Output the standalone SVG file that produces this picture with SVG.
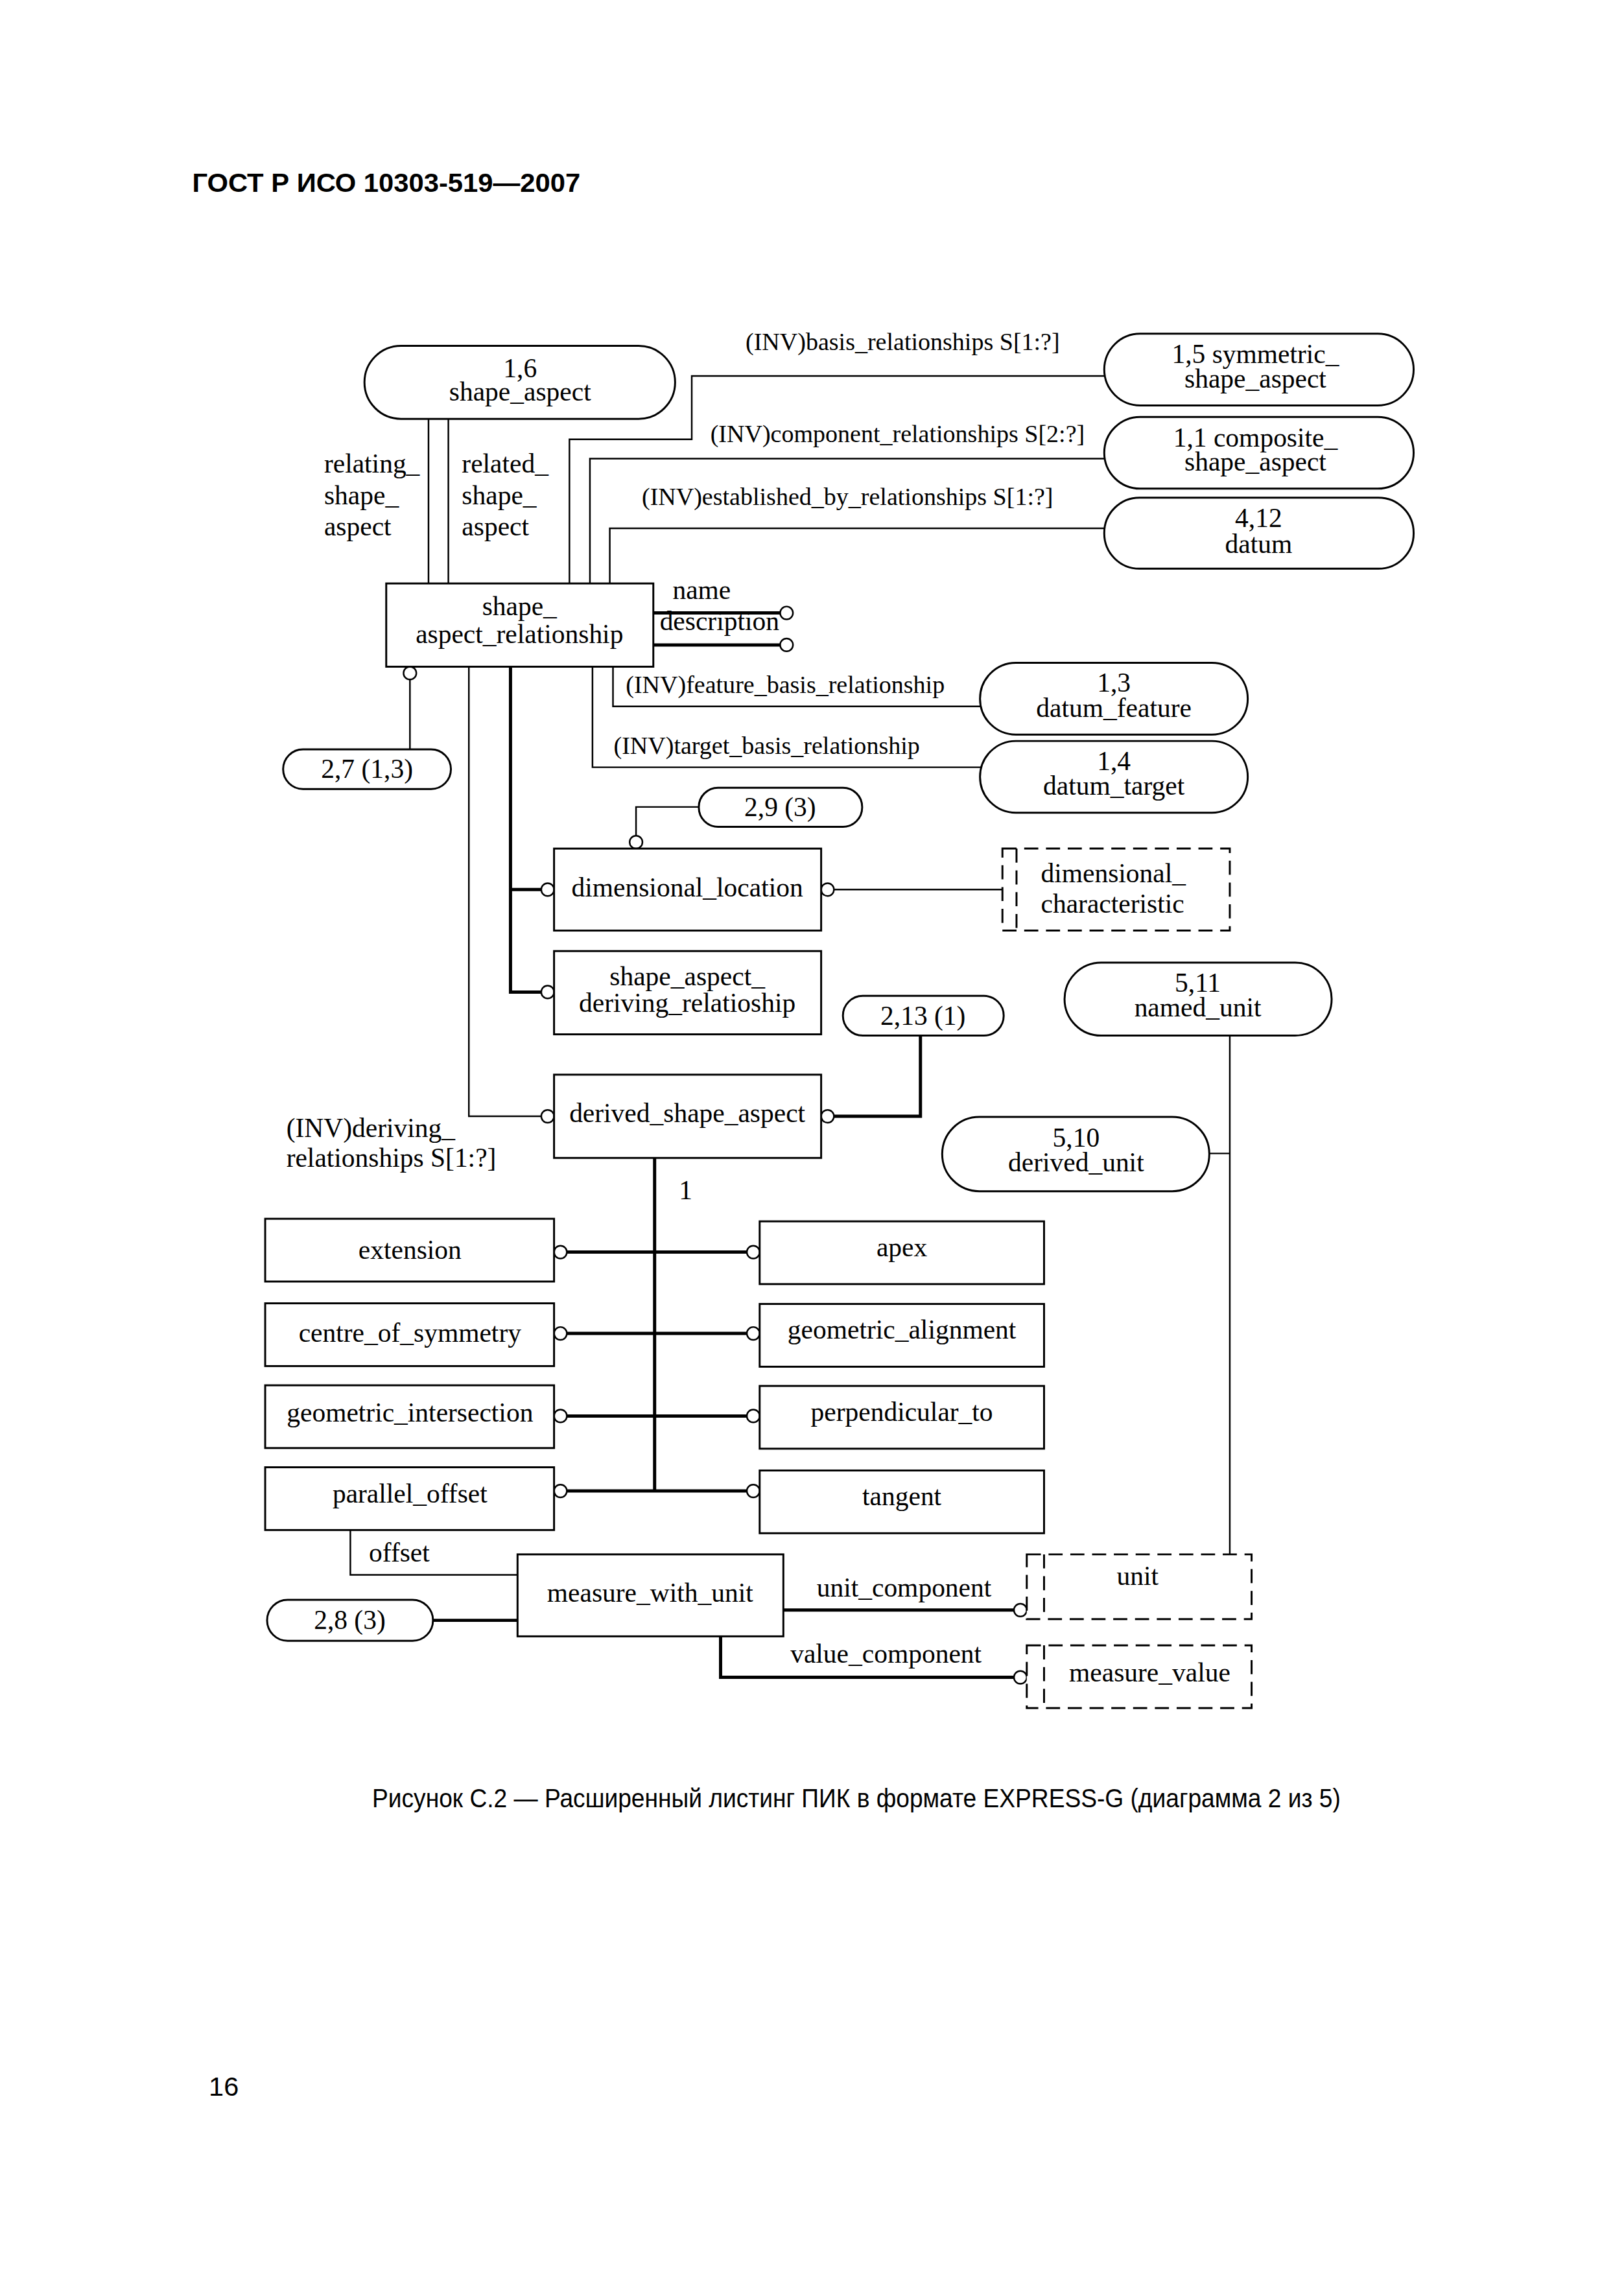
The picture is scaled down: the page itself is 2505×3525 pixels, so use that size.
<svg xmlns="http://www.w3.org/2000/svg" width="2505" height="3525" viewBox="0 0 2505 3525">
<style>
.bg{fill:#fff}
.n{fill:#fff;stroke:#000;stroke-width:3}
.d{fill:#fff;stroke:#000;stroke-width:3;stroke-dasharray:22 12}
.dl{fill:none;stroke:#000;stroke-width:3;stroke-dasharray:22 12}
.c{fill:none;stroke:#000;stroke-width:2.5}
.k{fill:none;stroke:#000;stroke-width:5}
.o{fill:#fff;stroke:#000;stroke-width:2.5}
text{font-family:"Liberation Serif","Times New Roman",serif;font-size:42px;fill:#000}
.i{font-size:38.5px}
.m{text-anchor:middle}
.s{font-family:"Liberation Sans",Arial,sans-serif}
</style>
<rect class="bg" x="0" y="0" width="2505" height="3525"/>
<g transform="scale(0.988)">
<text class="s" x="300" y="300" font-size="44" font-weight="bold" textLength="606" lengthAdjust="spacingAndGlyphs">ГОСТ Р ИСО 10303-519—2007</text>

<g id="connectors">
<path class="c" d="M669 654V911M700 654V911"/>
<path class="c" d="M889 911V686H1080V587H1724"/>
<path class="c" d="M921 911V716H1724"/>
<path class="c" d="M952 911V825H1724"/>
<path class="k" d="M1020 957H1218M1020 1007H1218"/>
<circle class="o" cx="1228" cy="957" r="10"/>
<circle class="o" cx="1228" cy="1007" r="10"/>
<path class="c" d="M640 1061V1170"/>
<circle class="o" cx="640" cy="1051" r="10"/>
<path class="c" d="M957 1041V1103H1531"/>
<path class="c" d="M925 1041V1198H1533"/>
<path class="k" d="M797 1041V1549H845M797 1389H845"/>
<circle class="o" cx="855" cy="1389" r="10"/>
<circle class="o" cx="855" cy="1549" r="10"/>
<path class="c" d="M732 1041V1743H845"/>
<circle class="o" cx="855" cy="1743" r="10"/>
<path class="c" d="M1091 1260H993V1305"/>
<circle class="o" cx="993" cy="1315" r="10"/>
<path class="c" d="M1302 1389H1565"/>
<circle class="o" cx="1292" cy="1389" r="10"/>
<path class="k" d="M1302 1743H1437V1617"/>
<circle class="o" cx="1292" cy="1743" r="10"/>
<path class="k" d="M1022 1808V2328"/>
<path class="k" d="M885 1955H1166M885 2082H1166M885 2211H1166M885 2328H1166"/>
<circle class="o" cx="875" cy="1955" r="10"/>
<circle class="o" cx="1176" cy="1955" r="10"/>
<circle class="o" cx="875" cy="2082" r="10"/>
<circle class="o" cx="1176" cy="2082" r="10"/>
<circle class="o" cx="875" cy="2211" r="10"/>
<circle class="o" cx="1176" cy="2211" r="10"/>
<circle class="o" cx="875" cy="2328" r="10"/>
<circle class="o" cx="1176" cy="2328" r="10"/>
<path class="c" d="M547 2389V2459H808"/>
<path class="k" d="M676 2530H808"/>
<path class="k" d="M1223 2514H1583"/>
<circle class="o" cx="1593" cy="2514" r="10"/>
<path class="k" d="M1125 2555V2619H1583"/>
<circle class="o" cx="1593" cy="2619" r="10"/>
<path class="c" d="M1920 1617V2427M1888 1801H1920"/>
<text x="506" y="738">relating_</text>
<text x="506" y="787">shape_</text>
<text x="506" y="836">aspect</text>
<text x="721" y="738">related_</text>
<text x="721" y="787">shape_</text>
<text x="721" y="836">aspect</text>
<text class="i" x="1164" y="547">(INV)basis_relationships S[1:?]</text>
<text class="i" x="1109" y="690">(INV)component_relationships S[2:?]</text>
<text class="i" x="1002" y="788">(INV)established_by_relationships S[1:?]</text>
<text x="1050" y="935">name</text>
<text x="1030" y="984">description</text>
<text class="i" x="977" y="1082">(INV)feature_basis_relationship</text>
<text class="i" x="958" y="1177">(INV)target_basis_relationship</text>
<text x="447" y="1775">(INV)deriving_</text>
<text x="447" y="1822">relationships S[1:?]</text>
<text x="1060" y="1872">1</text>
<text x="576" y="2438">offset</text>
<text x="1275" y="2493">unit_component</text>
<text x="1234" y="2596">value_component</text>
</g>

<g id="shape_aspect"><rect class="n" x="569" y="540" width="485" height="114" rx="57"/><text class="m" x="812" y="589">1,6</text><text class="m" x="812" y="626">shape_aspect</text></g>
<g id="symmetric_shape_aspect"><rect class="n" x="1724" y="521" width="483" height="112" rx="56"/><text class="m" x="1960" y="567">1,5 symmetric_</text><text class="m" x="1960" y="605">shape_aspect</text></g>
<g id="composite_shape_aspect"><rect class="n" x="1724" y="651" width="483" height="112" rx="56"/><text class="m" x="1960" y="697">1,1 composite_</text><text class="m" x="1960" y="735">shape_aspect</text></g>
<g id="datum"><rect class="n" x="1724" y="777" width="483" height="111" rx="55"/><text class="m" x="1965" y="823">4,12</text><text class="m" x="1965" y="863">datum</text></g>
<g id="shape_aspect_relationship"><rect class="n" x="603" y="911" width="417" height="130"/><text class="m" x="811" y="961">shape_</text><text class="m" x="811" y="1004">aspect_relationship</text></g>
<g id="ref_2_7"><rect class="n" x="442" y="1170" width="262" height="62" rx="31"/><text class="m" x="573" y="1215">2,7 (1,3)</text></g>
<g id="datum_feature"><rect class="n" x="1530" y="1035" width="418" height="112" rx="56"/><text class="m" x="1739" y="1080">1,3</text><text class="m" x="1739" y="1119">datum_feature</text></g>
<g id="datum_target"><rect class="n" x="1530" y="1157" width="418" height="112" rx="56"/><text class="m" x="1739" y="1202">1,4</text><text class="m" x="1739" y="1241">datum_target</text></g>
<g id="ref_2_9"><rect class="n" x="1091" y="1230" width="255" height="61" rx="30"/><text class="m" x="1218" y="1274">2,9 (3)</text></g>
<g id="dimensional_location"><rect class="n" x="865" y="1325" width="417" height="128"/><text class="m" x="1073" y="1400">dimensional_location</text></g>
<g id="dimensional_characteristic"><rect class="d" x="1565" y="1325" width="355" height="128"/><path class="dl" d="M1587 1325V1453"/><text x="1625" y="1378">dimensional_</text><text x="1625" y="1425">characteristic</text></g>
<g id="shape_aspect_deriving_relationship"><rect class="n" x="865" y="1485" width="417" height="130"/><text class="m" x="1073" y="1538">shape_aspect_</text><text class="m" x="1073" y="1580">deriving_relatioship</text></g>
<g id="ref_2_13"><rect class="n" x="1316" y="1555" width="251" height="62" rx="31"/><text class="m" x="1441" y="1600">2,13 (1)</text></g>
<g id="named_unit"><rect class="n" x="1662" y="1503" width="417" height="114" rx="57"/><text class="m" x="1870" y="1549">5,11</text><text class="m" x="1870" y="1587">named_unit</text></g>
<g id="derived_shape_aspect"><rect class="n" x="865" y="1678" width="417" height="130"/><text class="m" x="1073" y="1752">derived_shape_aspect</text></g>
<g id="derived_unit"><rect class="n" x="1471" y="1744" width="417" height="116" rx="58"/><text class="m" x="1680" y="1790">5,10</text><text class="m" x="1680" y="1829">derived_unit</text></g>
<g id="extension"><rect class="n" x="414" y="1903" width="451" height="98"/><text class="m" x="640" y="1966">extension</text></g>
<g id="centre_of_symmetry"><rect class="n" x="414" y="2035" width="451" height="98"/><text class="m" x="640" y="2095">centre_of_symmetry</text></g>
<g id="geometric_intersection"><rect class="n" x="414" y="2163" width="451" height="98"/><text class="m" x="640" y="2220">geometric_intersection</text></g>
<g id="parallel_offset"><rect class="n" x="414" y="2291" width="451" height="98"/><text class="m" x="640" y="2346">parallel_offset</text></g>
<g id="apex"><rect class="n" x="1186" y="1907" width="444" height="98"/><text class="m" x="1408" y="1962">apex</text></g>
<g id="geometric_alignment"><rect class="n" x="1186" y="2036" width="444" height="98"/><text class="m" x="1408" y="2090">geometric_alignment</text></g>
<g id="perpendicular_to"><rect class="n" x="1186" y="2164" width="444" height="98"/><text class="m" x="1408" y="2219">perpendicular_to</text></g>
<g id="tangent"><rect class="n" x="1186" y="2296" width="444" height="98"/><text class="m" x="1408" y="2350">tangent</text></g>
<g id="measure_with_unit"><rect class="n" x="808" y="2427" width="415" height="128"/><text class="m" x="1015" y="2501">measure_with_unit</text></g>
<g id="ref_2_8"><rect class="n" x="417" y="2498" width="259" height="64" rx="32"/><text class="m" x="546" y="2544">2,8 (3)</text></g>
<g id="unit"><rect class="d" x="1603" y="2427" width="351" height="101"/><path class="dl" d="M1630 2427V2528"/><text class="m" x="1776" y="2475">unit</text></g>
<g id="measure_value"><rect class="d" x="1603" y="2569" width="351" height="98"/><path class="dl" d="M1630 2569V2667"/><text class="m" x="1795" y="2626">measure_value</text></g>

<text class="s" x="581" y="2822" font-size="37" textLength="1512" lengthAdjust="spacingAndGlyphs">Рисунок С.2 — Расширенный листинг ПИК в формате EXPRESS-G (диаграмма 2 из 5)</text>
<text class="s" x="326" y="3272" font-size="38">16</text>
</g>
</svg>
